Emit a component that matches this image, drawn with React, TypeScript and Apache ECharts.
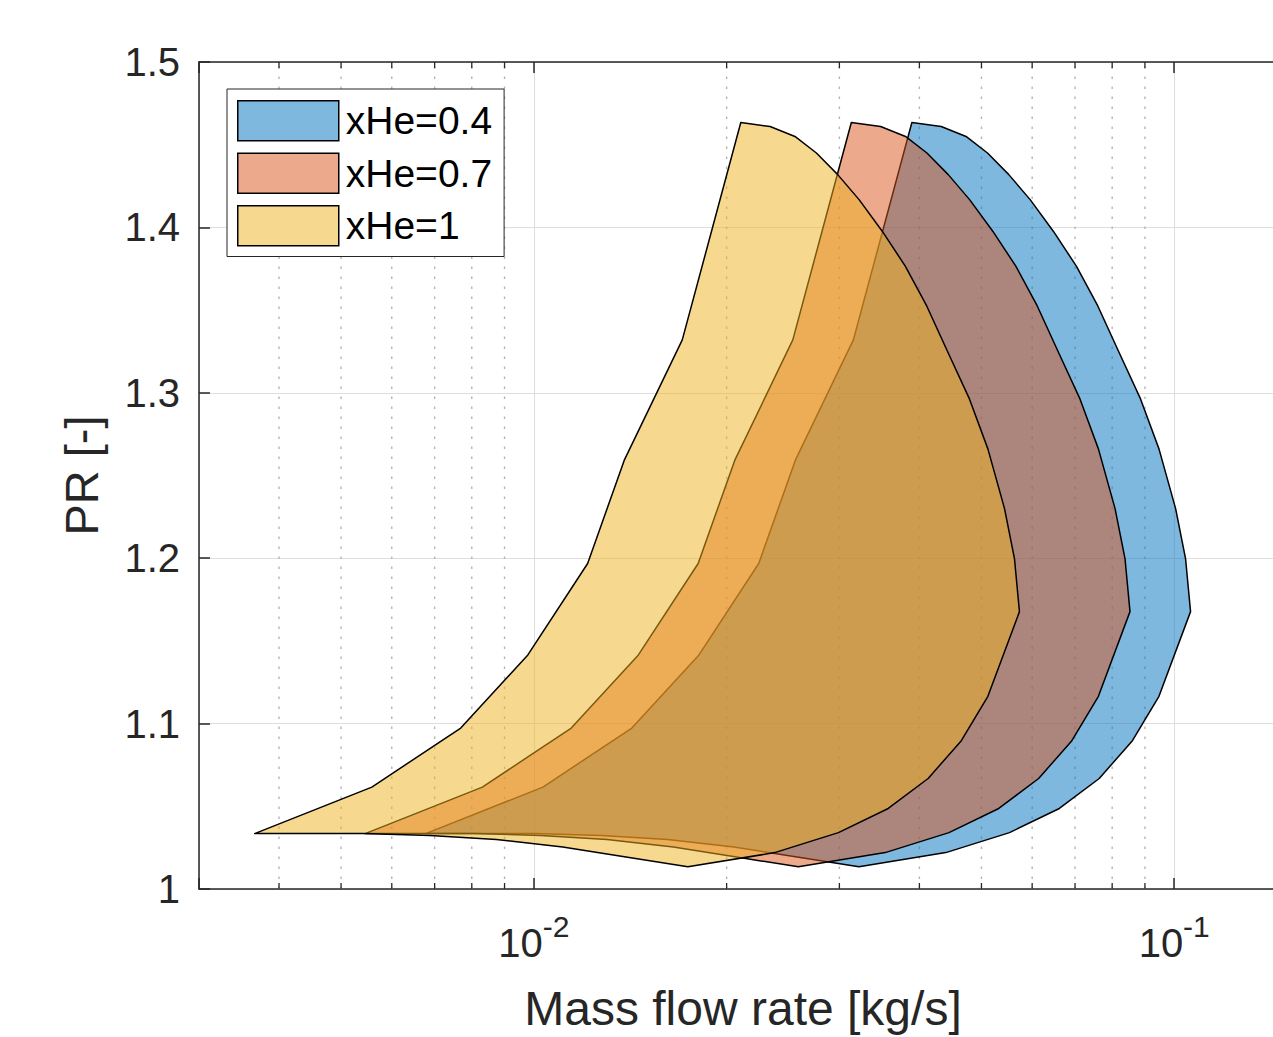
import React, { useEffect, useRef } from 'react';
import * as echarts from 'echarts';

const FONT = "'Liberation Sans', Arial, Helvetica, sans-serif";
const AXIS_COLOR = '#262626';

const seriesNames = ['xHe=0.4', 'xHe=0.7', 'xHe=1'];
const seriesFills = ['rgba(0,114,189,0.5)', 'rgba(217,83,25,0.5)', 'rgba(237,177,32,0.5)'];

// Pressure ratio along the envelope (surge line up, top, choke line down, bottom back)
const prEnvelope = [
  1.0335, 1.0616, 1.0973, 1.1415, 1.1968, 1.2591, 1.332, 1.4634,
  1.461, 1.455, 1.445, 1.4319, 1.4168, 1.3977, 1.3766, 1.3525, 1.3244, 1.2963,
  1.2661, 1.23, 1.1998, 1.1677,
  1.1165, 1.0897, 1.0668, 1.0487, 1.0341, 1.022, 1.0134,
  1.019, 1.0254, 1.03, 1.0324, 1.0335,
];

// Mass flow rate [kg/s] along the envelope for each helium fraction
const massFlowHe04 = [
  0.006778, 0.010332, 0.014223, 0.018106, 0.022448, 0.0256, 0.031546, 0.038935,
  0.04326, 0.047305, 0.051097, 0.055167, 0.05957, 0.064741, 0.070335, 0.075974, 0.082018, 0.088585,
  0.094661, 0.100501, 0.104153, 0.106042,
  0.094661, 0.08604, 0.076361, 0.066156, 0.055308, 0.043984, 0.03219,
  0.026061, 0.020524, 0.016167, 0.012734, 0.010018,
];
const massFlowHe07 = [
  0.005452, 0.00831, 0.01144, 0.014563, 0.018055, 0.020591, 0.025373, 0.031316,
  0.034795, 0.038048, 0.041099, 0.044372, 0.047914, 0.052073, 0.056572, 0.061108, 0.065969, 0.071251,
  0.076138, 0.080836, 0.083773, 0.085292,
  0.076138, 0.069204, 0.061419, 0.053211, 0.044485, 0.035377, 0.025891,
  0.020961, 0.016508, 0.013004, 0.010242, 0.008058,
];
const massFlowHe10 = [
  0.003664, 0.005585, 0.007688, 0.009787, 0.012134, 0.013838, 0.017052, 0.021046,
  0.023384, 0.02557, 0.02762, 0.02982, 0.0322, 0.034995, 0.038019, 0.041067, 0.044334, 0.047884,
  0.051168, 0.054325, 0.056299, 0.05732,
  0.051168, 0.046508, 0.041276, 0.03576, 0.029896, 0.023775, 0.0174,
  0.014087, 0.011094, 0.008739, 0.006883, 0.005415,
];

// Minor (log) ticks of the x axis
const minorTickValues = [
  0.004, 0.005, 0.006, 0.007, 0.008, 0.009,
  0.02, 0.03, 0.04, 0.05, 0.06, 0.07, 0.08, 0.09,
];

const X_MIN = 0.003;
const X_MAX = 0.15;
const Y_MIN = 1;
const Y_MAX = 1.5;

function polygonSeries(name: string, fill: string, massFlow: number[]) {
  return {
    type: 'custom',
    name,
    coordinateSystem: 'cartesian2d',
    xAxisIndex: 0,
    yAxisIndex: 0,
    z: 3,
    clip: true,
    data: massFlow.map((m, i) => [m, prEnvelope[i]]),
    encode: { x: 0, y: 1 },
    itemStyle: { color: fill, borderColor: '#000', borderWidth: 1.5 },
    renderItem: (params: any, api: any) => {
      if (params.dataIndex !== 0) return null;
      const points = massFlow.map((m, i) => api.coord([m, prEnvelope[i]]));
      return {
        type: 'polygon',
        shape: { points },
        style: { fill, stroke: '#000', lineWidth: 1.5, lineJoin: 'round' },
      };
    },
  };
}

export default function App() {
  const ref = useRef<HTMLDivElement>(null);

  useEffect(() => {
    document.body.style.margin = '0';
    document.body.style.overflow = 'hidden';
    const chart = echarts.init(ref.current as HTMLDivElement, undefined, { renderer: 'svg' });

    const tickLine = { color: AXIS_COLOR, width: 1.5 };

    const option: any = {
      animation: false,
      backgroundColor: '#ffffff',
      textStyle: { fontFamily: FONT },
      grid: { left: 199, top: 62, right: 0, bottom: 145.5, containLabel: false },
      legend: {
        data: seriesNames,
        orient: 'vertical',
        left: 227,
        top: 89,
        padding: [11, 12, 10, 10],
        itemGap: 11,
        itemWidth: 101,
        itemHeight: 40,
        icon: 'rect',
        backgroundColor: '#ffffff',
        borderColor: AXIS_COLOR,
        borderWidth: 1,
        borderRadius: 0,
        itemStyle: { borderColor: '#000', borderWidth: 1.5 },
        textStyle: { fontSize: 39, color: '#000', fontFamily: FONT, padding: [0, 0, 0, 2] },
        selectedMode: false,
        z: 10,
      },
      xAxis: [
        {
          type: 'log',
          logBase: 10,
          min: X_MIN,
          max: X_MAX,
          position: 'bottom',
          name: 'Mass flow rate [kg/s]',
          nameLocation: 'middle',
          nameGap: 95,
          nameTextStyle: { fontSize: 48, color: AXIS_COLOR, fontFamily: FONT },
          axisLine: { show: true, lineStyle: tickLine },
          axisTick: { show: true, inside: true, length: 11, lineStyle: tickLine },
          axisLabel: {
            margin: 22,
            color: AXIS_COLOR,
            fontFamily: FONT,
            formatter: (v: number) => {
              const e = Math.log10(v);
              const r = Math.round(e);
              if (Math.abs(e - r) > 1e-6) return '';
              return `{b|10}{s|${r}}`;
            },
            rich: {
              b: { fontSize: 40, lineHeight: 64, color: AXIS_COLOR, fontFamily: FONT },
              s: { fontSize: 30, lineHeight: 30, verticalAlign: 'top', color: AXIS_COLOR, fontFamily: FONT },
            },
          },
          splitLine: { show: true, lineStyle: { color: '#dedede', width: 1 } },
          minorTick: { show: false },
          minorSplitLine: { show: false },
        },
        {
          type: 'log',
          logBase: 10,
          min: X_MIN,
          max: X_MAX,
          position: 'top',
          axisLine: { show: true, lineStyle: tickLine },
          axisTick: { show: true, inside: true, length: 11, lineStyle: tickLine },
          axisLabel: { show: false },
          splitLine: { show: false },
        },
      ],
      yAxis: [
        {
          type: 'value',
          min: Y_MIN,
          max: Y_MAX,
          interval: 0.1,
          name: 'PR [-]',
          nameLocation: 'middle',
          nameGap: 94,
          nameTextStyle: { fontSize: 47, color: AXIS_COLOR, fontFamily: FONT },
          axisLine: { show: true, lineStyle: tickLine },
          axisTick: { show: true, inside: true, length: 11, lineStyle: tickLine },
          axisLabel: { fontSize: 40, color: AXIS_COLOR, margin: 19, fontFamily: FONT },
          splitLine: { show: true, lineStyle: { color: '#dedede', width: 1 } },
        },
      ],
      series: [
        {
          type: 'custom',
          name: 'minor-grid',
          coordinateSystem: 'cartesian2d',
          xAxisIndex: 0,
          yAxisIndex: 0,
          silent: true,
          z: 1,
          data: minorTickValues.map((v) => [v, Y_MIN]),
          encode: { x: 0, y: 1 },
          renderItem: (params: any, api: any) => {
            const v = api.value(0);
            const b = api.coord([v, Y_MIN]);
            const t = api.coord([v, Y_MAX]);
            return {
              type: 'group',
              children: [
                {
                  type: 'line',
                  shape: { x1: b[0], y1: b[1], x2: t[0], y2: t[1] },
                  style: { stroke: '#b5b5b5', lineWidth: 1.4, lineDash: [2.5, 7.5] },
                },
                {
                  type: 'line',
                  shape: { x1: b[0], y1: b[1], x2: b[0], y2: b[1] - 6 },
                  style: { stroke: AXIS_COLOR, lineWidth: 1.3 },
                },
                {
                  type: 'line',
                  shape: { x1: t[0], y1: t[1], x2: t[0], y2: t[1] + 6 },
                  style: { stroke: AXIS_COLOR, lineWidth: 1.3 },
                },
              ],
            };
          },
        },
        polygonSeries(seriesNames[0], seriesFills[0], massFlowHe04),
        polygonSeries(seriesNames[1], seriesFills[1], massFlowHe07),
        polygonSeries(seriesNames[2], seriesFills[2], massFlowHe10),
      ],
    };

    chart.setOption(option);
    return () => chart.dispose();
  }, []);

  return (
    <div
      ref={ref}
      style={{ position: 'fixed', left: 0, top: 0, width: 1290, height: 1037, background: '#fff' }}
    />
  );
}
